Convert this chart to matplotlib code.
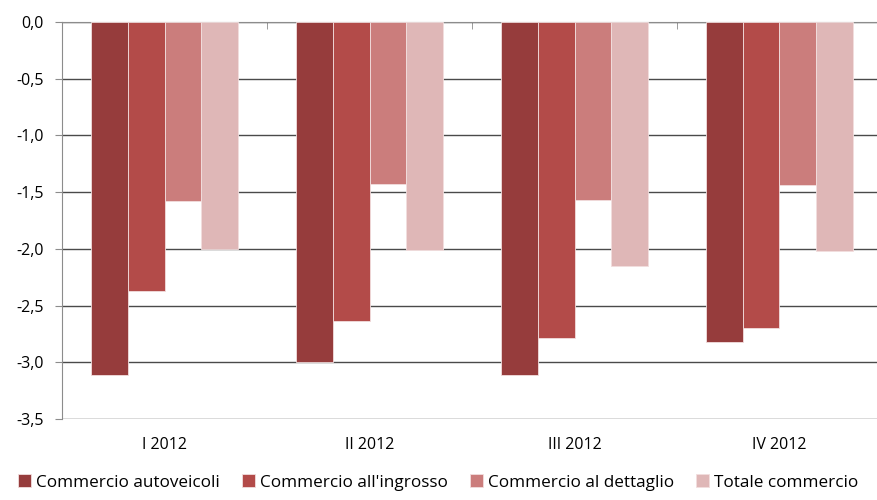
import numpy as np
import matplotlib.pyplot as plt
from matplotlib.ticker import FuncFormatter

plt.rcParams['font.family'] = ['Open Sans', 'DejaVu Sans']

quarters = ['I 2012', 'II 2012', 'III 2012', 'IV 2012']
series = ['Commercio autoveicoli', "Commercio all'ingrosso",
          'Commercio al dettaglio', 'Totale commercio']
autoveicoli = [-3.11, -3.00, -3.11, -2.82]
ingrosso = [-2.37, -2.64, -2.79, -2.70]
dettaglio = [-1.58, -1.43, -1.57, -1.44]
totale = [-2.00, -2.01, -2.15, -2.02]
colors = ['#963c3c', '#b34b49', '#cb7d7c', '#dfb7b7']

fig = plt.figure(figsize=(8.77, 5), dpi=100)
ax = fig.add_axes((0.0707, 0.162, 0.935, 0.794))

x = np.arange(len(quarters))
w = 0.18
for i, (vals, name) in enumerate(zip([autoveicoli, ingrosso, dettaglio, totale], series)):
    ax.bar(x + (i - 1.5) * w, vals, w, color=colors[i], label=name,
           edgecolor='#f2dede', linewidth=0.6, zorder=3)

ax.set_xlim(-0.5, 3.5)
ax.set_ylim(-3.5, 0)
ax.set_yticks(np.arange(-3.5, 0.01, 0.5))
ax.yaxis.set_major_formatter(FuncFormatter(lambda v, p: f'{v:.1f}'.replace('.', ',')))
ax.yaxis.grid(True, color='#4a4a4a', linewidth=1.0, zorder=0)
ax.set_axisbelow(True)
ax.tick_params(axis='y', direction='out', length=5, color='#8c8c8c',
               labelsize=11.5, pad=8)

ax.set_xticks(x)
ax.set_xticklabels(quarters, fontsize=11.5)
ax.tick_params(axis='x', length=0, pad=13)

# category axis sits at zero (top), with boundary ticks pointing down
ax.set_xticks(np.arange(-0.5, 3.6, 1.0), minor=True)
ax.tick_params(axis='x', which='minor', top=True, bottom=False, direction='in',
               length=5, color='#8c8c8c')

for s in ['right', 'bottom']:
    ax.spines[s].set_visible(False)
ax.spines['left'].set_color('#8c8c8c')
ax.spines['top'].set_color('#8c8c8c')

handles, labels = ax.get_legend_handles_labels()
fig.legend(handles, labels, loc='lower left', bbox_to_anchor=(0.003, -0.012), ncol=4,
           frameon=False, fontsize=12.3, handlelength=0.75, handleheight=0.75,
           handletextpad=0.3, columnspacing=1.3)

fig.savefig('out.png', dpi=100)
